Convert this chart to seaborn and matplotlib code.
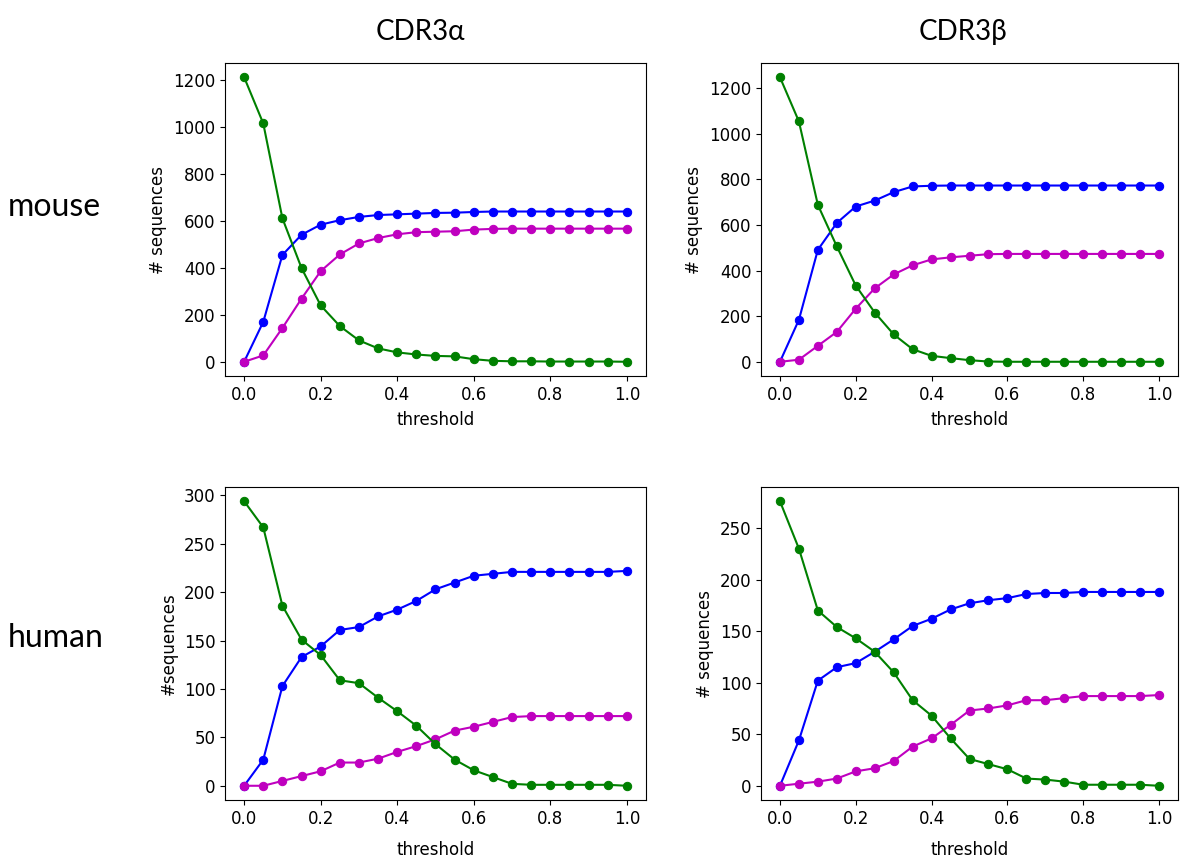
import pandas as pd
import seaborn as sns
import matplotlib
matplotlib.use("Agg")
import matplotlib.pyplot as plt

plt.rcParams["font.family"] = ["DejaVu Sans"]

threshold = [0.0, 0.05, 0.1, 0.15, 0.2, 0.25, 0.3, 0.35, 0.4, 0.45, 0.5,
             0.55, 0.6, 0.65, 0.7, 0.75, 0.8, 0.85, 0.9, 0.95, 1.0]

# mouse CDR3a
mouse_a_blue = [0, 170, 455, 541, 584, 603, 617, 625, 628, 631, 634,
                635, 638, 640, 640, 640, 640, 640, 640, 640, 640]
mouse_a_magenta = [0, 27, 144, 269, 386, 457, 504, 527, 543, 552, 554,
                   556, 563, 566, 567, 567, 567, 567, 567, 567, 567]
mouse_a_green = [1212, 1015, 611, 399, 240, 152, 91, 57, 40, 31, 25,
                 23, 11, 4, 2, 2, 1, 1, 1, 1, 0]

# mouse CDR3b
mouse_b_blue = [0, 184, 491, 609, 681, 707, 744, 769, 772, 773, 773,
                773, 773, 773, 773, 773, 773, 773, 773, 773, 773]
mouse_b_magenta = [0, 9, 70, 131, 233, 322, 383, 423, 449, 458, 465,
                   472, 473, 473, 473, 473, 473, 473, 473, 473, 473]
mouse_b_green = [1248, 1054, 688, 506, 334, 216, 120, 55, 26, 16, 7,
                 1, 0, 0, 0, 0, 0, 0, 0, 0, 0]

# human CDR3a
human_a_blue = [0, 27, 103, 133, 144, 161, 164, 175, 182, 191, 203,
                210, 217, 219, 221, 221, 221, 221, 221, 221, 222]
human_a_magenta = [0, 0, 5, 10, 15, 24, 24, 28, 35, 41, 48,
                   57, 61, 66, 71, 72, 72, 72, 72, 72, 72]
human_a_green = [294, 267, 186, 151, 135, 109, 106, 91, 77, 62, 43,
                 27, 16, 9, 2, 1, 1, 1, 1, 1, 0]

# human CDR3b
human_b_blue = [0, 44, 102, 115, 119, 130, 142, 155, 162, 171, 177,
                180, 182, 186, 187, 187, 188, 188, 188, 188, 188]
human_b_magenta = [0, 2, 4, 7, 14, 17, 24, 38, 46, 59, 73,
                   75, 78, 83, 83, 85, 87, 87, 87, 87, 88]
human_b_green = [276, 230, 170, 154, 143, 130, 110, 83, 68, 46, 26,
                 21, 16, 7, 6, 4, 1, 1, 1, 1, 0]

col_titles = ["CDR3α", "CDR3β"]
row_titles = ["mouse", "human"]

panels = [
    (mouse_a_blue, mouse_a_magenta, mouse_a_green, "# sequences"),
    (mouse_b_blue, mouse_b_magenta, mouse_b_green, "# sequences"),
    (human_a_blue, human_a_magenta, human_a_green, "#sequences"),
    (human_b_blue, human_b_magenta, human_b_green, "# sequences"),
]

W, H = 1180, 860
fig = plt.figure(figsize=(W / 100, H / 100), dpi=100)

# axes boxes in pixels: left, top, right, bottom
boxes = [(225, 63, 646, 376), (761, 63, 1178, 376),
         (225, 487, 646, 800), (761, 487, 1178, 800)]
xpads = [5.5, 5.5, 9.5, 9.5]

for (blue, magenta, green, ylab), (l, t, r, b), xpad in zip(panels, boxes, xpads):
    ax = fig.add_axes([l / W, 1 - b / H, (r - l) / W, (b - t) / H])
    for vals, c in [(blue, "b"), (magenta, "m"), (green, "g")]:
        df = pd.DataFrame({"threshold": threshold, "n": vals})
        sns.lineplot(data=df, x="threshold", y="n", color=c, marker="o",
                     markersize=6, markeredgecolor=c, linewidth=1.5, ax=ax)
    ax.set_xlabel("threshold", fontsize=12, labelpad=xpad)
    ax.set_ylabel(ylab, fontsize=12)
    ax.set_xticks([0.0, 0.2, 0.4, 0.6, 0.8, 1.0])
    ax.tick_params(labelsize=12)

fig.text(420 / W, 1 - 32 / H, col_titles[0], fontsize=20, family="Lato",
         ha="center", va="center")
fig.text(963 / W, 1 - 32 / H, col_titles[1], fontsize=20, family="Lato",
         ha="center", va="center")
fig.text(8 / W, 1 - 207 / H, row_titles[0], fontsize=23, family="Lato",
         ha="left", va="center")
fig.text(8 / W, 1 - 638 / H, row_titles[1], fontsize=23, family="Lato",
         ha="left", va="center")

fig.savefig("out.png", dpi=100)
